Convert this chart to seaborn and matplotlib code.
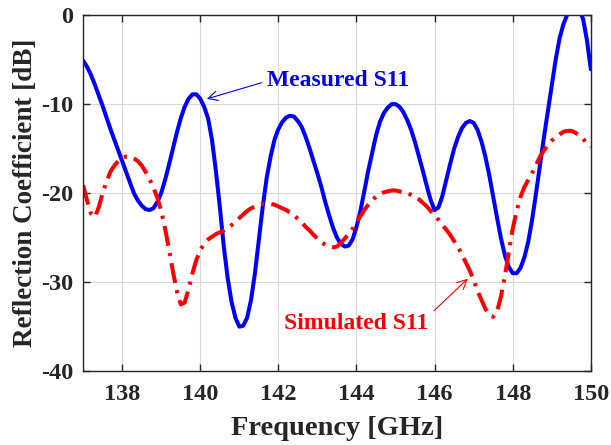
import numpy as np
import pandas as pd
import seaborn as sns
import matplotlib.pyplot as plt

# frequency grid [GHz], 0.1 GHz step
freq = np.round(np.arange(137.0, 150.0001, 0.1), 1)

# measured S11 [dB]
measured = [
    -5.1, -5.8, -6.7, -7.8, -9.0, -10.2, -11.5, -12.8, -14.0, -15.2,
    -16.4, -17.6, -18.8, -20.0, -20.8, -21.4, -21.8, -21.9, -21.7, -21.0,
    -20.0, -18.5, -16.8, -15.0, -13.2, -11.6, -10.3, -9.4, -8.9, -8.9,
    -9.4, -10.3, -11.6, -14.0, -17.5, -21.5, -25.9, -29.5, -32.2, -34.0,
    -35.0, -34.9, -34.0, -32.0, -29.0, -25.2, -21.5, -18.3, -15.9, -14.0,
    -12.8, -12.0, -11.5, -11.3, -11.4, -11.9, -12.6, -13.7, -15.0, -16.4,
    -17.8, -19.3, -21.0, -22.5, -23.9, -25.0, -25.7, -26.0, -25.9, -25.2,
    -23.8, -22.0, -19.8, -17.5, -15.5, -13.5, -12.0, -11.0, -10.4, -10.0,
    -10.0, -10.3, -10.9, -11.8, -12.9, -14.3, -15.9, -17.5, -19.2, -20.8,
    -21.9, -21.6, -20.3, -18.5, -16.7, -15.0, -13.7, -12.7, -12.1, -11.9,
    -12.1, -12.9, -14.2, -15.9, -18.0, -20.4, -22.8, -25.1, -27.0, -28.3,
    -29.0, -29.0, -28.4, -27.2, -25.4, -22.9, -19.9, -16.8, -13.7, -10.8,
    -7.9, -5.0, -2.6, -1.0, 0.1, 0.9, 1.1, 0.6, -0.4, -2.8,
    -6.1,
]

# simulated S11 [dB]
simulated = [
    -19.1, -20.8, -22.3, -22.7, -21.6, -20.0, -18.7, -17.6, -16.9, -16.4,
    -16.0, -15.9, -15.9, -16.1, -16.4, -16.9, -17.6, -18.4, -19.4, -20.5,
    -22.0, -24.0, -26.3, -28.8, -31.0, -32.5, -32.3, -30.8, -29.0, -27.5,
    -26.4, -25.7, -25.2, -24.9, -24.6, -24.4, -24.2, -23.9, -23.6, -23.2,
    -22.8, -22.4, -22.0, -21.7, -21.5, -21.3, -21.2, -21.2, -21.2, -21.3,
    -21.5, -21.7, -21.9, -22.2, -22.5, -22.9, -23.3, -23.8, -24.2, -24.7,
    -25.1, -25.5, -25.8, -26.0, -26.1, -26.0, -25.6, -25.1, -24.6, -24.0,
    -23.3, -22.6, -21.9, -21.3, -20.8, -20.4, -20.1, -19.9, -19.8, -19.7,
    -19.7, -19.8, -19.9, -20.0, -20.2, -20.4, -20.7, -21.1, -21.5, -22.0,
    -22.5, -23.0, -23.6, -24.1, -24.7, -25.4, -26.1, -26.9, -27.8, -28.7,
    -29.8, -31.0, -32.0, -33.0, -33.7, -33.9, -33.3, -31.6, -29.3, -26.6,
    -24.0, -22.0, -20.4, -19.3, -18.5, -17.7, -16.8, -15.9, -15.2, -14.6,
    -14.1, -13.7, -13.4, -13.1, -13.0, -13.0, -13.2, -13.5, -13.9, -14.4,
    -14.8,
]

x_ticks = [138, 140, 142, 144, 146, 148, 150]
y_ticks = [0, -10, -20, -30, -40]

df = pd.DataFrame({'freq': freq, 'measured': measured, 'simulated': simulated})

sns.set_theme(style='ticks')
plt.rcParams['font.family'] = ['Liberation Serif', 'DejaVu Serif']
plt.rcParams['font.weight'] = 'bold'
plt.rcParams['axes.unicode_minus'] = False

txt = '#262626'
fig, ax = plt.subplots(figsize=(6.11, 4.45), dpi=100)
fig.subplots_adjust(left=0.136, right=0.967, bottom=0.166, top=0.966)

sns.lineplot(data=df, x='freq', y='measured', ax=ax, color='#0000ff', lw=2.9)
sns.lineplot(data=df, x='freq', y='simulated', ax=ax, color='#ff0000', lw=2.9)
ax.lines[-1].set_dashes([5, 1.8, 0.8, 1.8])

ax.set_xlim(137, 150)
ax.set_ylim(-40, 0)
ax.set_xticks(x_ticks)
ax.set_yticks(y_ticks)
ax.grid(True, color='#d9d9d9', lw=0.8)
ax.tick_params(direction='in', top=True, right=True, length=5, width=1,
               colors=txt, labelsize=17.5)
ax.tick_params(axis='x', pad=9)
ax.tick_params(axis='y', pad=7)
for lbl in ax.get_xticklabels() + ax.get_yticklabels():
    lbl.set_fontweight('bold')
for sp in ax.spines.values():
    sp.set_color('#262626')
    sp.set_linewidth(1)

ax.set_xlabel('Frequency [GHz]', fontsize=20.5, fontweight='bold', color=txt, labelpad=8)
ax.set_ylabel('Reflection Coefficient [dB]', fontsize=19.5, fontweight='bold', color=txt,
              labelpad=2)

ax.annotate('Measured S11', xy=(140.1, -9.5), xytext=(141.72, -7.4),
            color='#0000ff', fontsize=17, fontweight='bold', ha='left', va='center',
            arrowprops=dict(arrowstyle='->', color='#0000ff', lw=0.8,
                            relpos=(0, 0.5)))
ax.annotate('Simulated S11', xy=(146.9, -29.4), xytext=(145.85, -34.6),
            color='#ff0000', fontsize=17, fontweight='bold', ha='right', va='center',
            arrowprops=dict(arrowstyle='->', color='#ff0000', lw=0.8,
                            relpos=(1.0, 0.85)))

fig.savefig('out.png', dpi=100)
